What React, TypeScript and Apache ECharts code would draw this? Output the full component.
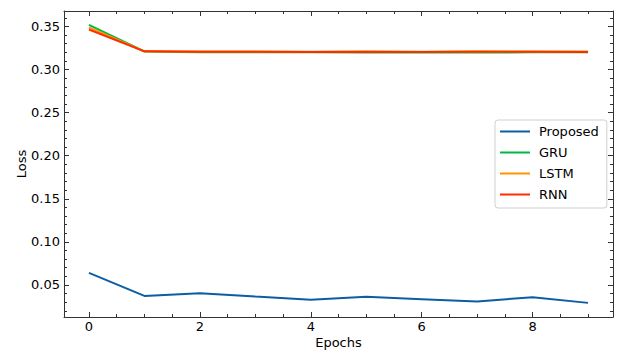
import React, { useEffect, useRef } from "react";
import * as echarts from "echarts";

const epochs = [0, 1, 2, 3, 4, 5, 6, 7, 8, 9];
const proposed = [0.064, 0.0373, 0.0405, 0.0365, 0.0328, 0.0362, 0.0335, 0.0308, 0.0358, 0.0292];
const gru = [0.352, 0.321, 0.3202, 0.3201, 0.3201, 0.3199, 0.3199, 0.3198, 0.32, 0.32];
const lstm = [0.349, 0.3212, 0.321, 0.3209, 0.3207, 0.3209, 0.3206, 0.3212, 0.321, 0.3209];
const rnn = [0.3465, 0.3212, 0.3208, 0.3208, 0.3205, 0.3208, 0.3204, 0.3206, 0.3208, 0.3205];

const xMajor = [0, 2, 4, 6, 8];
const xMinor = [-0.5, 0.5, 1, 1.5, 2.5, 3, 3.5, 4.5, 5, 5.5, 6.5, 7, 7.5, 8.5, 9];
const yMajor = [0.05, 0.1, 0.15, 0.2, 0.25, 0.3, 0.35];
const yMinor = [0.02, 0.03, 0.04, 0.06, 0.07, 0.08, 0.09, 0.11, 0.12, 0.13, 0.14, 0.16, 0.17, 0.18, 0.19, 0.21, 0.22, 0.23, 0.24, 0.26, 0.27, 0.28, 0.29, 0.31, 0.32, 0.33, 0.34, 0.36];

const X_MIN = -0.45;
const X_MAX = 9.45;
const Y_MIN = 0.0128;
const Y_MAX = 0.368;

const FONT = "DejaVu Sans";
const AXIS_COLOR = "#333333";

export default function App() {
  const ref = useRef<HTMLDivElement>(null);
  useEffect(() => {
    if (!ref.current) return;
    const chart = echarts.init(ref.current, null, { renderer: "svg" });
    const mkX = (pos: string, vals: number[], len: number, main: boolean) => ({
      type: "value",
      position: pos,
      min: X_MIN,
      max: X_MAX,
      gridIndex: 0,
      axisLine: { show: main, onZero: false, lineStyle: { color: AXIS_COLOR, width: 1 } },
      axisTick: { show: true, inside: true, length: len, customValues: vals, lineStyle: { color: AXIS_COLOR, width: 1 } },
      axisLabel: main && pos === "bottom"
        ? { show: true, customValues: xMajor, margin: 3, color: "#000", fontFamily: FONT, fontSize: 13, formatter: (v: number) => String(v) }
        : { show: false },
      splitLine: { show: false },
      name: main && pos === "bottom" ? "Epochs" : "",
      nameLocation: "middle",
      nameGap: 19,
      nameMoveOverlap: false,
      nameTextStyle: { color: "#000", fontFamily: FONT, fontSize: 13 },
    });
    const mkY = (pos: string, vals: number[], len: number, main: boolean) => ({
      type: "value",
      position: pos,
      min: Y_MIN,
      max: Y_MAX,
      gridIndex: 0,
      axisLine: { show: main, onZero: false, lineStyle: { color: AXIS_COLOR, width: 1 } },
      axisTick: { show: true, inside: true, length: len, customValues: vals, lineStyle: { color: AXIS_COLOR, width: 1 } },
      axisLabel: main && pos === "left"
        ? { show: true, customValues: yMajor, margin: 4, color: "#000", fontFamily: FONT, fontSize: 13, formatter: (v: number) => v.toFixed(2) }
        : { show: false },
      splitLine: { show: false },
      name: main && pos === "left" ? "Loss" : "",
      nameLocation: "middle",
      nameGap: 36,
      nameMoveOverlap: false,
      nameRotate: 90,
      nameTextStyle: { color: "#000", fontFamily: FONT, fontSize: 13 },
    });
    const mkSeries = (name: string, data: number[], color: string) => ({
      name,
      type: "line",
      xAxisIndex: 0,
      yAxisIndex: 0,
      data: epochs.map((e, i) => [e, data[i]]),
      symbol: "none",
      lineStyle: { color, width: 2 },
      itemStyle: { color },
    });
    chart.setOption({
      animation: false,
      backgroundColor: "#ffffff",
      grid: { left: 64, right: 5, top: 11, bottom: 34, containLabel: false, outerBoundsMode: "none" },
      xAxis: [
        mkX("bottom", xMajor, 5, true),
        mkX("bottom", xMinor, 3, false),
        mkX("top", xMajor, 5, true),
        mkX("top", xMinor, 3, false),
      ],
      yAxis: [
        mkY("left", yMajor, 5, true),
        mkY("left", yMinor, 3, false),
        mkY("right", yMajor, 5, true),
        mkY("right", yMinor, 3, false),
      ],
      legend: {
        orient: "vertical",
        left: 495,
        top: 120,
        icon: "rect",
        itemWidth: 30,
        itemHeight: 2,
        itemGap: 8,
        padding: [5, 8, 7, 5],
        borderColor: "#d0d0d0",
        borderWidth: 1,
        borderRadius: 3,
        backgroundColor: "#ffffff",
        textStyle: { color: "#000", fontFamily: FONT, fontSize: 13, padding: [0, 0, 0, 4] },
        data: ["Proposed", "GRU", "LSTM", "RNN"],
      },
      series: [
        mkSeries("Proposed", proposed, "#0C5DA5"),
        mkSeries("GRU", gru, "#00B945"),
        mkSeries("LSTM", lstm, "#FF9500"),
        mkSeries("RNN", rnn, "#FF2C00"),
      ],
    });
    return () => chart.dispose();
  }, []);
  return <div ref={ref} style={{ position: "absolute", left: 0, top: 0, width: 618, height: 351 }} />;
}
